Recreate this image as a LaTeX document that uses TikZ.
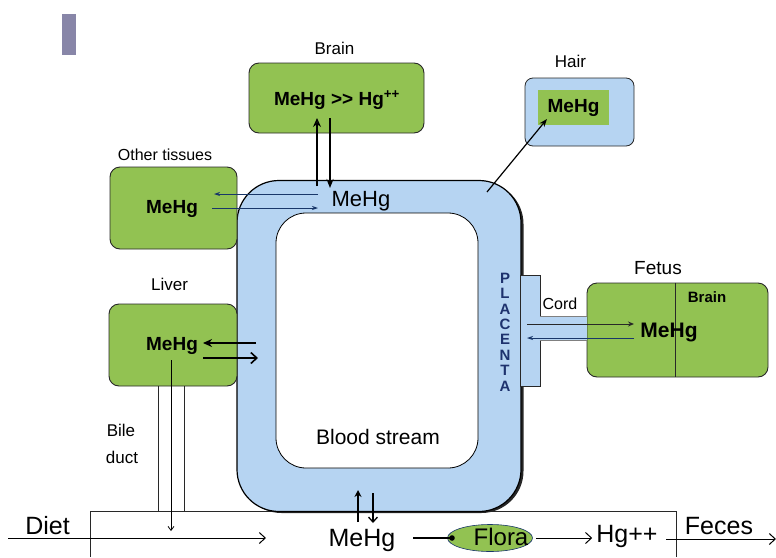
\documentclass[tikz,border=0pt]{standalone}
\usepackage{fontspec}
\setmainfont{Liberation Sans}
\usetikzlibrary{arrows.meta,shapes.geometric}
\definecolor{gfill}{RGB}{146,194,82}
\definecolor{bfill}{RGB}{182,212,242}
\definecolor{edgec}{RGB}{40,40,40}
\definecolor{navy}{RGB}{30,50,110}
\definecolor{barc}{RGB}{136,134,168}
\definecolor{darkblue}{RGB}{25,55,105}
\newcommand{\fsz}[1]{\fontsize{#1}{#1}\selectfont}
\begin{document}
\begin{tikzpicture}[x=1pt,y=-1pt,
  organ/.style={draw=edgec,line width=0.9pt,fill=gfill,rounded corners=10pt,inner sep=0pt},
  lbl/.style={inner sep=0pt,font=\fsz{17}},
  big/.style={inner sep=0pt,font=\fsz{24}},
  bmh/.style={inner sep=0pt,font=\bfseries\fsz{19}},
  flow/.style={line width=1.1pt,-{Stealth[length=8pt,width=6pt]}},
  openflow/.style={line width=1.1pt,-{Straight Barb[length=6pt,width=11pt]}},
  thinflow/.style={draw=darkblue,line width=0.8pt,-{Stealth[length=6pt,width=4pt]}},
  plain/.style={draw=edgec,line width=0.7pt}]
\useasboundingbox (0,0) rectangle (776,557);

% grey bar
\node[fill=barc,minimum width=14pt,minimum height=41pt,inner sep=0pt] (bar) at (69,34.5) {};

% gut
\coordinate (g1) at (90,511);
\coordinate (g2) at (676,511);
\coordinate (g1b) at (90,557);
\coordinate (g2b) at (676,557);
\draw[plain] (g1b) -- (g1) -- (g2) -- (g2b);

% blood stream
\node[fill=black!85,rounded corners=42pt,minimum width=284pt,minimum height=331pt,inner sep=0pt] (bshadow) at (381.5,347.5) {};
\node[draw=black,line width=1.2pt,fill=bfill,rounded corners=42pt,minimum width=284pt,minimum height=331pt,inner sep=0pt] (blood) at (379,346) {};
\node[draw=black,line width=0.8pt,fill=white,rounded corners=30pt,minimum width=202pt,minimum height=255pt,inner sep=0pt] (inner) at (377,340.5) {};
\node[inner sep=0pt,font=\fsz{22}] (bmehg) at (361,201) {MeHg};
\node[inner sep=0pt,font=\fsz{21}] (bstream) at (378,437) {Blood stream};

% placenta
\node[draw=edgec,line width=0.7pt,fill=bfill,minimum width=20pt,minimum height=111pt,inner sep=0pt] (plac) at (530,330.5) {};
\node[inner sep=0pt,align=center,text=navy,font=\bfseries\fontsize{15}{15.4}\selectfont] (placenta) at (505,332) {P\\L\\A\\C\\E\\N\\T\\A};

% brain
\node[lbl] (brainl) at (334.5,48) {Brain};
\node[organ,minimum width=175pt,minimum height=70pt] (brain) at (336.5,98) {};
\node[bmh] (brainm) at (337,100) {MeHg {>}{>} Hg\textsuperscript{++}};
\coordinate (bu1) at (317,186);
\coordinate (bu2) at (317,118);
\coordinate (bd1) at (330,118);
\coordinate (bd2) at (330,188);
\draw[line width=1.3pt,-{Stealth[length=9pt,width=8pt,open]}] (bu1) -- (bu2);
\draw[line width=1.3pt,-{Stealth[length=9pt,width=7pt]}] (bd1) -- (bd2);

% other tissues
\node[lbl,font=\fsz{16}] (otherl) at (165,155) {Other tissues};
\node[organ,minimum width=127pt,minimum height=82pt] (other) at (173.5,208) {};
\node[bmh] (otherm) at (172,209) {MeHg};
\coordinate (ot1) at (318,194);
\coordinate (ot2) at (214,194);
\coordinate (ot3) at (212,208);
\coordinate (ot4) at (318,208);
\draw[thinflow] (ot1) -- (ot2);
\draw[thinflow] (ot3) -- (ot4);

% liver
\node[lbl] (liverl) at (169.5,284) {Liver};
\node[organ,minimum width=128pt,minimum height=82pt] (liver) at (173,345) {};
\node[bmh] (liverm) at (172,346) {MeHg};
\coordinate (lv1) at (256,343);
\coordinate (lv2) at (203,343);
\coordinate (lv3) at (203,358);
\coordinate (lv4) at (258,358);
\draw[line width=2pt,-{Stealth[length=9pt,width=8pt]}] (lv1) -- (lv2);
\draw[openflow,line width=1.6pt] (lv3) -- (lv4);

% bile duct
\coordinate (bl1) at (158,386);
\coordinate (bl1b) at (158,511);
\coordinate (bl3) at (184,386);
\coordinate (bl3b) at (184,511);
\coordinate (bl2) at (171,360);
\coordinate (bl2b) at (171,531);
\draw[plain,line width=0.6pt] (bl1) -- (bl1b);
\draw[plain,line width=0.6pt] (bl3) -- (bl3b);
\draw[line width=0.8pt,-{Straight Barb[length=4pt,width=6pt]}] (bl2) -- (bl2b);
\node[lbl] (bile) at (121,430) {Bile};
\node[lbl] (duct) at (122,457) {duct};

% hair
\node[lbl] (hairl) at (570.5,61) {Hair};
\node[draw=edgec,line width=0.8pt,fill=bfill,rounded corners=8pt,minimum width=109pt,minimum height=68pt,inner sep=0pt] (hair) at (579.5,112) {};
\node[fill=gfill,minimum width=71pt,minimum height=35pt,inner sep=0pt,font=\bfseries\fsz{19}] (hairin) at (573.5,107.5) {MeHg};
\coordinate (hr1) at (487,192);
\coordinate (hr2) at (547,119);
\draw[line width=1.2pt,-{Stealth[length=8pt,width=6pt]}] (hr1) -- (hr2);

% fetus
\node[lbl,font=\fsz{19}] (fetusl) at (658,268) {Fetus};
\node[organ,minimum width=181pt,minimum height=94pt] (fetus) at (677.5,330) {};
\draw[plain,line width=0.8pt] ([xshift=-2.5pt]fetus.north) -- ([xshift=-2.5pt]fetus.south);
\node[inner sep=0pt,font=\bfseries\fsz{15}] (fbrain) at (707,297) {Brain};
\node[inner sep=0pt,font=\bfseries\fsz{21}] (fmehg) at (669,332) {MeHg};

% cord
\node[fill=bfill,minimum width=47pt,minimum height=24pt,inner sep=0pt] (cord) at (563.5,328) {};
\draw[draw=gray,line width=0.5pt] (cord.north west) -- (cord.north east);
\draw[draw=gray,line width=0.5pt] (cord.south west) -- (cord.south east);
\node[lbl,font=\fsz{16}] (cordl) at (560,304) {Cord};
\coordinate (cd1) at (527,324);
\coordinate (cd2) at (634,324);
\coordinate (cd3) at (634,338);
\coordinate (cd4) at (527,338);
\draw[line width=1pt,draw=edgec,-{Stealth[length=6pt,width=5pt]}] (cd1) -- (cd2);
\draw[thinflow] (cd3) -- (cd4);

% bottom flow
\node[inner sep=0pt,font=\fsz{25}] (diet) at (47.5,526) {Diet};
\coordinate (dt1) at (8,538);
\coordinate (dt2) at (266,538);
\draw[openflow,line width=1pt] (dt1) -- (dt2);
\node[inner sep=0pt,font=\fsz{25}] (gmehg) at (362,540) {MeHg};
\coordinate (vu1) at (358,522);
\coordinate (vu2) at (358,490);
\coordinate (vd1) at (373,493);
\coordinate (vd2) at (373,523);
\draw[line width=1.3pt,-{Stealth[length=7pt,width=7pt,open]}] (vu1) -- (vu2);
\draw[line width=1.3pt,-{Straight Barb[length=5pt,width=9pt]}] (vd1) -- (vd2);
\node[ellipse,draw=darkblue,line width=0.6pt,fill=gfill,minimum width=85pt,minimum height=27pt,inner sep=0pt] (flora) at (490,538) {};
\node[inner sep=0pt,font=\fsz{24}] (floral) at (501,537) {Flora};
\coordinate (fl0) at (413,538);
\coordinate (flw) at (452,538);
\draw[draw=black,line width=1.2pt] (fl0) -- (flw);
\fill[black] (flw) circle (2.8pt);
\node[inner sep=0pt,font=\fsz{25}] (hg) at (627,536) {Hg++};
\coordinate (fl1) at (536,538);
\draw[openflow,line width=1pt,shorten >=4pt] (fl1) -- (hg.west |- fl1);
\node[inner sep=0pt,font=\fsz{25}] (feces) at (719,526) {Feces};
\coordinate (fc1) at (666,539);
\coordinate (fc2) at (776,539);
\draw[openflow,line width=1pt] (fc1) -- (fc2);
\end{tikzpicture}
\end{document}
